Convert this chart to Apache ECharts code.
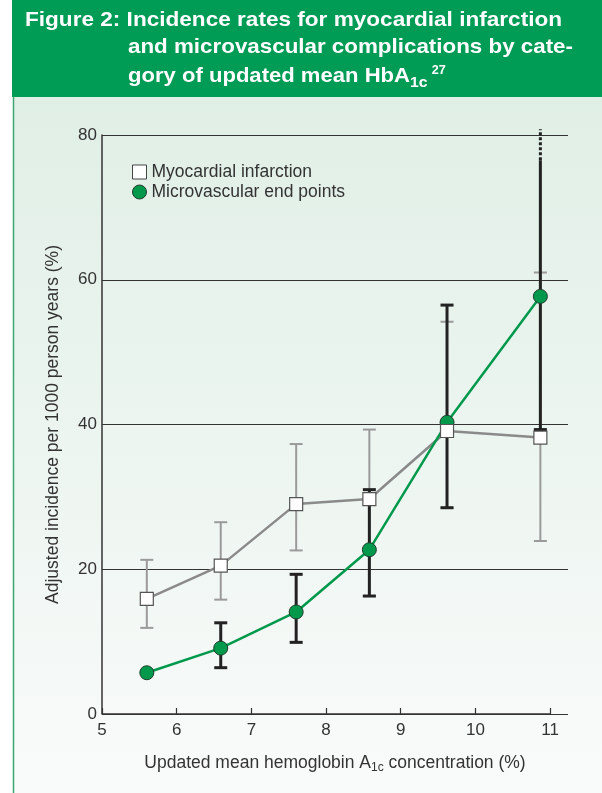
<!DOCTYPE html>
<html>
<head>
<meta charset="utf-8">
<script src="https://cdn.jsdelivr.net/npm/echarts@6/dist/echarts.min.js"></script>
<style>html,body{margin:0;padding:0;background:#fff}#c{width:602px;height:793px}</style>
</head>
<body>
<div id="c"></div>
<script>
// ---- data ----
const hba1c = [5.6, 6.59, 7.6, 8.58, 9.62, 10.87];
const miRate = [15.9, 20.5, 29.0, 29.7, 39.1, 38.2];
const miLow  = [11.9, 15.8, 22.6, 16.3, 28.5, 23.9];
const miHigh = [21.3, 26.5, 37.3, 39.3, 54.2, 61.0];
const mvRate = [5.7, 9.1, 14.1, 22.7, 40.3, 57.7];
const mvLow  = [null, 6.4, 9.9, 16.3, 28.5, 39.3];
const mvHigh = [null, 12.6, 19.3, 31.0, 56.5, 80.8];
const mvDashedFrom = [null, null, null, null, null, 76.5];
const xTicks = [5, 6, 7, 8, 9, 10, 11];
const titleLines = [
  'Figure 2: Incidence rates for myocardial infarction',
  'and microvascular complications by cate-',
  'gory of updated mean HbA'
];
// target rendered widths of the title lines (layout)
const titleWidths = [537, 445, 282];

const chart = echarts.init(document.getElementById('c'), null, {renderer: 'canvas'});

const titleFamily = '"Liberation Sans", Arial, sans-serif';
const titleFont = 'bold 21px ' + titleFamily;
const axisFont = '"Liberation Sans", Arial, sans-serif';

const mctx = document.createElement('canvas').getContext('2d');
mctx.font = titleFont;
const titleScale = titleLines.map((t, i) => titleWidths[i] / mctx.measureText(t).width);

function errRender(color, width) {
  return function (params, api) {
    const x = api.value(0), l = api.value(1), h = api.value(2), d = api.value(3);
    const pL = api.coord([x, l]), pH = api.coord([x, h]);
    const half = 6.5;
    const st = {stroke: color, lineWidth: width};
    const children = [];
    if (!isNaN(d)) {
      const pD = api.coord([x, d]);
      children.push({type: 'line', shape: {x1: pL[0], y1: pL[1], x2: pD[0], y2: pD[1]}, style: st});
      children.push({type: 'line', shape: {x1: pD[0], y1: pD[1], x2: pH[0], y2: pH[1]},
        style: {stroke: color, lineWidth: width, lineDash: [3, 2]}});
    } else {
      children.push({type: 'line', shape: {x1: pL[0], y1: pL[1], x2: pH[0], y2: pH[1]}, style: st});
      children.push({type: 'line', shape: {x1: pH[0] - half, y1: pH[1], x2: pH[0] + half, y2: pH[1]}, style: st});
    }
    children.push({type: 'line', shape: {x1: pL[0] - half, y1: pL[1], x2: pL[0] + half, y2: pL[1]}, style: st});
    return {type: 'group', children: children};
  };
}

const miErrData = hba1c.map((x, i) => [x, miLow[i], miHigh[i], NaN]);
const mvErrData = hba1c.map((x, i) => mvLow[i] == null ? null : [x, mvLow[i], mvHigh[i], mvDashedFrom[i] == null ? NaN : mvDashedFrom[i]]).filter(d => d);

const option = {
  animation: false,
  graphic: [
    {type: 'rect', z: -100, shape: {x: 12, y: 0, width: 590, height: 97}, style: {fill: '#009b55'}},
    {type: 'rect', z: -100, shape: {x: 13, y: 97, width: 589, height: 696},
      style: {fill: new echarts.graphic.LinearGradient(0, 0, 0, 1, [{offset: 0, color: '#e0efe6'}, {offset: 1, color: '#f9fbfa'}])}},
    {type: 'line', z: -99, shape: {x1: 13.5, y1: 97, x2: 13.5, y2: 793}, style: {stroke: '#3aa870', lineWidth: 1.5}},
    {type: 'text', z: 10, x: 25, y: 10, scaleX: titleScale[0], style: {text: titleLines[0], fill: '#fff', font: titleFont, verticalAlign: 'top'}},
    {type: 'text', z: 10, x: 128, y: 37, scaleX: titleScale[1], style: {text: titleLines[1], fill: '#fff', font: titleFont, verticalAlign: 'top'}},
    {type: 'text', z: 10, x: 128, y: 63, scaleX: titleScale[2], style: {text: titleLines[2] + '{sub|1c}{sup|27}', fill: '#fff', font: titleFont, verticalAlign: 'top',
      rich: {sub: {fontSize: 15, fontWeight: 'bold', fontFamily: titleFamily, fill: '#fff', padding: [12, 0, 0, 0]},
             sup: {fontSize: 12, fontWeight: 'bold', fontFamily: titleFamily, fill: '#fff', padding: [0, 0, 12, 4]}}}}
  ],
  legend: {
    orient: 'vertical', left: 127, top: 158, itemGap: 2, itemWidth: 14, itemHeight: 14,
    textStyle: {fontFamily: axisFont, fontSize: 17.5, color: '#333'},
    data: [
      {name: 'Myocardial infarction', icon: 'rect', itemStyle: {color: '#fff', borderColor: '#444', borderWidth: 1}},
      {name: 'Microvascular end points', icon: 'circle', itemStyle: {color: '#00994c', borderColor: '#1d3d2d', borderWidth: 1}}
    ]
  },
  grid: {left: 102, right: 34, top: 135, bottom: 79, containLabel: false},
  xAxis: {
    type: 'value', min: 5, max: 11.24,
    name: 'Updated mean hemoglobin A{sub|1c} concentration (%)', nameLocation: 'middle', nameGap: 39,
    nameTextStyle: {fontFamily: axisFont, fontSize: 17.5, color: '#333', rich: {sub: {fontSize: 12, fontFamily: axisFont, color: '#333', padding: [9, 0, 0, 0]}}},
    axisLine: {show: false},
    axisTick: {show: true, inside: true, length: 6, customValues: xTicks, lineStyle: {color: '#333', width: 1.2}},
    axisLabel: {customValues: xTicks, fontFamily: axisFont, fontSize: 17, color: '#333', margin: 8},
    splitLine: {show: false}
  },
  yAxis: {
    type: 'value', min: 0, max: 80, interval: 20,
    name: 'Adjusted incidence per 1000 person years (%)', nameLocation: 'middle', nameGap: 40,
    nameTextStyle: {fontFamily: axisFont, fontSize: 17.5, color: '#333'},
    axisLine: {show: true, lineStyle: {color: '#333', width: 1.5}},
    axisTick: {show: false},
    axisLabel: {fontFamily: axisFont, fontSize: 17, color: '#333', margin: 5},
    splitLine: {show: true, lineStyle: {color: '#333', width: 1.2}}
  },
  series: [
    {type: 'custom', name: 'miErr', z: 2, data: miErrData, renderItem: errRender('#9a9a9a', 2),
      markLine: {silent: true, symbol: ['none', 'none'], label: {show: false}, lineStyle: {color: '#333', width: 1.5, type: 'solid'},
        data: [[{coord: [5, 0]}, {coord: [11, 0]}]]}},
    {type: 'custom', name: 'mvErr', z: 3, data: mvErrData, renderItem: errRender('#222', 3)},
    {type: 'line', name: 'Myocardial infarction', z: 4, data: hba1c.map((x, i) => [x, miRate[i]]), showSymbol: false, symbol: 'none',
      lineStyle: {color: '#8a8a8a', width: 2.5}, itemStyle: {color: '#fff', borderColor: '#444'}},
    {type: 'line', name: 'Microvascular end points', z: 5, data: hba1c.map((x, i) => [x, mvRate[i]]), symbol: 'circle', symbolSize: 14,
      lineStyle: {color: '#00994c', width: 2.5}, itemStyle: {color: '#00994c', borderColor: '#1d3d2d', borderWidth: 1}},
    {type: 'scatter', name: 'Myocardial infarction', z: 6, data: hba1c.map((x, i) => [x, miRate[i]]), symbol: 'rect', symbolSize: 13,
      itemStyle: {color: '#fff', borderColor: '#555', borderWidth: 1.2, opacity: 1}}
  ]
};
chart.setOption(option);
</script>
</body>
</html>
